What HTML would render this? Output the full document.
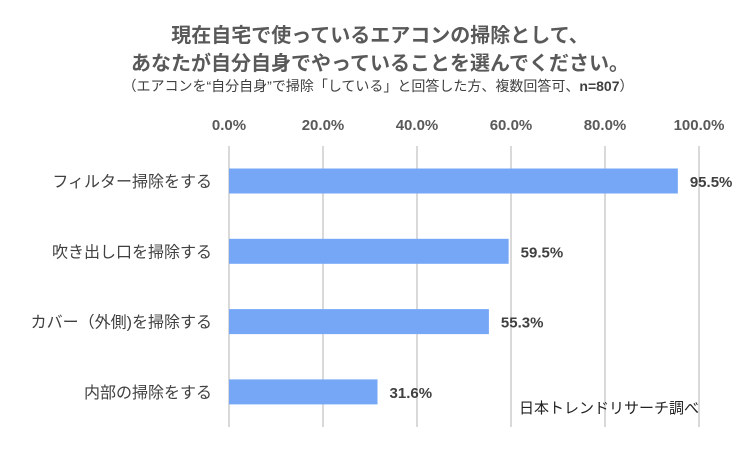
<!DOCTYPE html>
<html><head><meta charset="utf-8"><style>
html,body{margin:0;padding:0;background:#fff;}
svg{display:block;font-family:"Liberation Sans","Noto Sans CJK JP",sans-serif;}
</style></head><body>
<svg id="chart" width="750" height="450" viewBox="0 0 750 450">
<text x="380" y="42" text-anchor="middle" font-size="20" font-weight="bold" fill="#595959">現在自宅で使っているエアコンの掃除として、</text>
<text x="380" y="70" text-anchor="middle" font-size="20" font-weight="bold" fill="#595959">あなたが自分自身でやっていることを選んでください。</text>
<text x="378" y="91" text-anchor="middle" font-size="14" fill="#404040">（エアコンを“自分自身”で掃除「している」と回答した方、複数回答可、<tspan font-weight="bold">n=807</tspan>）</text>
<g id="grid"></g>
<g id="ticks"></g>
<g id="bars"></g>
<text x="519" y="413" font-size="15" fill="#222">日本トレンドリサーチ調べ</text>
</svg>
<script>
const categories=["フィルター掃除をする","吹き出し口を掃除する","カバー（外側)を掃除する","内部の掃除をする"];
const values=[95.5,59.5,55.3,31.6];
const tickValues=[0,20,40,60,80,100];
const tickLabels=["0.0%","20.0%","40.0%","60.0%","80.0%","100.0%"];
const NS="http://www.w3.org/2000/svg";
const x0=229,x1=699,yTop=146,yBot=427,rowTop=157,rowH=70.3,barH=25;
const xs=v=>x0+(v/100)*(x1-x0);
const grid=document.getElementById('grid'),ticks=document.getElementById('ticks'),bars=document.getElementById('bars');
function mk(t,a){const e=document.createElementNS(NS,t);for(const k in a)e.setAttribute(k,a[k]);return e;}
tickValues.forEach((v,i)=>{
 const l=mk('line',{x1:xs(v),x2:xs(v),y1:yTop,y2:yBot,stroke:'#d9d9d9','stroke-width':2});
 
 
 grid.appendChild(l);
 const t=mk('text',{x:xs(v),y:130,'text-anchor':'middle','font-size':15,'font-weight':'bold',fill:'#595959'});
 
 
 t.textContent=tickLabels[i];ticks.appendChild(t);
});
categories.forEach((c,i)=>{
 const yc=rowTop+rowH*i+24;
 const r=mk('rect',{x:x0,y:yc-barH/2,width:xs(values[i])-x0,height:barH,fill:'#76a7f7'});
 
 
 bars.appendChild(r);
 const lb=mk('text',{x:212,y:yc+6,'text-anchor':'end','font-size':16,fill:'#404040'});
 
 
 lb.textContent=c;bars.appendChild(lb);
 const vl=mk('text',{x:xs(values[i])+12,y:yc+6,'font-size':15,'font-weight':'bold',fill:'#404040'});
 
 
 vl.textContent=values[i].toFixed(1)+'%';bars.appendChild(vl);
});
</script>
</body></html>
